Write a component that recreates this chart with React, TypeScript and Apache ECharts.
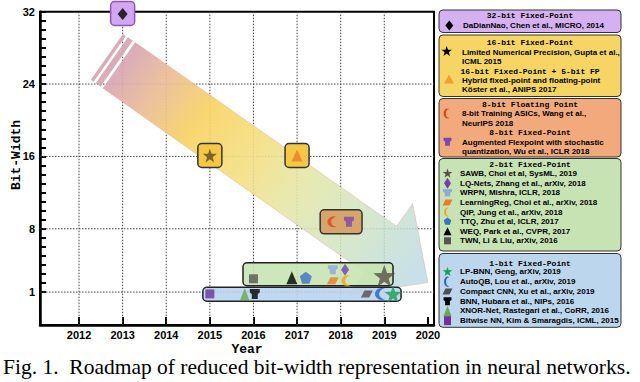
import React, { useEffect, useRef } from 'react';
import * as echarts from 'echarts';

// ---------- data ----------
const yearLabels = [2012, 2013, 2014, 2015, 2016, 2017, 2018, 2019, 2020];
const yearGridLines = [2012, 2013, 2014, 2015, 2016, 2017, 2018, 2019];
const bitLabels = [1, 8, 16, 24, 32];
const bitGridLines = [1, 8, 16, 24];
const bitTicks = [1, 2, 3, 4, 5, 6, 7, 8, 9, 10, 11, 12, 13, 14, 15, 16, 17, 18, 19, 20, 21, 22, 23, 24, 25, 26, 27, 28, 29, 30, 31, 32];

const workNames = ['DaDianNao', 'Gupta', 'Koster', 'Wang', 'Wu', 'TWN', 'WEQ', 'TTQ', 'WRPN', 'LearningReg', 'LQ-Nets', 'QIP', 'SAWB', 'Bitwise NN', 'XNOR-Net', 'BNN', 'Compact CNN', 'AutoQB', 'LP-BNN'];
const workYears = [2013.0, 2015.0, 2017.0, 2017.8, 2018.19, 2016.0, 2016.88, 2017.2, 2017.82, 2017.82, 2018.1, 2018.12, 2019.0, 2015.0, 2015.8, 2016.03, 2018.6, 2018.9, 2019.2];
const workBits = [31.75, 16.1, 16.1, 8.77, 8.77, 2.47, 2.58, 2.58, 3.46, 2.25, 3.46, 2.25, 2.8, 0.8, 0.8, 0.8, 0.8, 0.8, 0.8];

const boxStartYears = [2013, 2015, 2017, 2017.53, 2015.76, 2014.84];
const boxEndYears = [2013, 2015, 2017, 2018.49, 2019.2, 2019.385];
const boxBits = [31.8, 16.1, 16.1, 8.77, 2.97, 0.76];

const arrowTail = [2012.92, 26.06];
const arrowTip = [2020.0, 2.05];

const legendTitles = ['32-bit Fixed-Point', '16-bit Fixed-Point', '16-bit Fixed-Point + 5-bit FP', '8-bit Floating Point', '8-bit Fixed-Point', '2-bit Fixed-Point', '1-bit Fixed-Point'];
const legendTexts32 = ['DaDianNao, Chen et al., MICRO, 2014'];
const legendTexts16 = ['Limited Numerical Precision, Gupta et al.,', 'ICML 2015', 'Hybrid fixed-point and floating-point', 'Köster et al., ANIPS 2017'];
const legendTexts8 = ['8-bit Training ASICs, Wang et al.,', 'NeurIPS 2018', 'Augmented Flexpoint with stochastic', 'quantization, Wu et al., ICLR 2018'];
const legendTexts2 = ['SAWB, Choi et al, SysML, 2019', 'LQ-Nets, Zhang et al., arXiv, 2018', 'WRPN, Mishra, ICLR, 2018', 'LearningReg, Choi et al., arXiv, 2018', 'QIP, Jung et al., arXiv, 2018', 'TTQ, Zhu et al, ICLR, 2017', 'WEQ, Park et al., CVPR, 2017', 'TWN, Li & Liu, arXiv, 2016'];
const legendWorks2 = ['SAWB', 'LQ-Nets', 'WRPN', 'LearningReg', 'QIP', 'TTQ', 'WEQ', 'TWN'];
const legendTexts1 = ['LP-BNN, Geng, arXiv, 2019', 'AutoQB, Lou et al., arXiv, 2019', 'Compact CNN, Xu et al., arXiv, 2019', 'BNN, Hubara et al., NIPs, 2016', 'XNOR-Net, Rastegari et al., CoRR, 2016', 'Bitwise NN, Kim & Smaragdis, ICML, 2015'];
const legendWorks1 = ['LP-BNN', 'AutoQB', 'Compact CNN', 'BNN', 'XNOR-Net', 'Bitwise NN'];
const caption = 'Fig. 1.  Roadmap of reduced bit-width representation in neural networks.';

// ---------- shapes ----------
const PATHS: Record<string, string> = {
  star: 'M0 -50 L11.76 -16.18 L47.55 -15.45 L19.02 6.18 L29.39 40.45 L0 20 L-29.39 40.45 L-19.02 6.18 L-47.55 -15.45 L-11.76 -16.18 Z',
  crescent: 'M22 -44.9 A50 50 0 1 0 22 44.9 A45 45 0 0 1 22 -44.9 Z',
  cup: 'M-50 -50 L50 -50 L50 -15 L30 0 L30 50 L-30 50 L-30 0 L-50 -15 Z',
  para: 'M-20 -50 L50 -50 L20 50 L-50 50 Z',
  pentagon: 'M0 -50 L47.55 -15.45 L29.39 40.45 L-29.39 40.45 L-47.55 -15.45 Z',
  diamond: 'M0 -50 L50 0 L0 50 L-50 0 Z',
  triangle: 'M0 -50 L50 50 L-50 50 Z',
  square: 'M-50 -50 L50 -50 L50 50 L-50 50 Z',
};
Object.keys(PATHS).forEach((k) => {
  echarts.graphic.registerShape('sym_' + k, echarts.graphic.extendPath(PATHS[k], {}));
});

// style per work
const WORK_STYLE: Record<string, { sym: string; size: number[]; color: string; legendColor?: string; legendSize: number[] }> = {
  'DaDianNao': { sym: 'diamond', size: [10, 12], color: '#000', legendSize: [8, 10] },
  'Gupta': { sym: 'star', size: [14, 14], color: '#5b4b25', legendColor: '#000', legendSize: [11, 11] },
  'Koster': { sym: 'triangle', size: [11, 12], color: '#e9802a', legendColor: '#f0a030', legendSize: [10, 9] },
  'Wang': { sym: 'crescent', size: [9, 11], color: '#e0461e', legendSize: [8, 10] },
  'Wu': { sym: 'cup', size: [10, 10], color: '#7a48b0', legendSize: [8, 8] },
  'TWN': { sym: 'square', size: [9, 9], color: '#555555', legendSize: [7, 7] },
  'WEQ': { sym: 'triangle', size: [11, 13], color: '#000', legendSize: [8, 8] },
  'TTQ': { sym: 'pentagon', size: [12, 12], color: '#3a72c4', legendSize: [8, 8] },
  'WRPN': { sym: 'cup', size: [10, 9], color: '#8fa8dc', legendSize: [9, 7] },
  'LearningReg': { sym: 'para', size: [12, 7], color: '#ee7a30', legendSize: [10, 6] },
  'LQ-Nets': { sym: 'diamond', size: [8, 12], color: '#7040b0', legendSize: [7, 11] },
  'QIP': { sym: 'crescent', size: [9, 11], color: '#f2a51a', legendSize: [7, 9] },
  'SAWB': { sym: 'star', size: [22, 22], color: '#5a5045', legendSize: [10, 10] },
  'Bitwise NN': { sym: 'square', size: [9, 9], color: '#7030a0', legendSize: [7, 9] },
  'XNOR-Net': { sym: 'triangle', size: [9, 12], color: '#6aaa48', legendSize: [8, 10] },
  'BNN': { sym: 'cup', size: [10, 10], color: '#000', legendSize: [8, 8] },
  'Compact CNN': { sym: 'para', size: [12, 7], color: '#505050', legendSize: [10, 6] },
  'AutoQB': { sym: 'crescent', size: [10, 12], color: '#1e64c8', legendSize: [7, 10] },
  'LP-BNN': { sym: 'star', size: [17, 17], color: '#16a050', legendSize: [10, 10] },
};

const BOX_STYLE = [
  { h: 24, fill: '#d3a6f2', stroke: '#8e54c0' },
  { h: 24, fill: '#f3c846', stroke: '#333' },
  { h: 24, fill: '#f3c846', stroke: '#333' },
  { h: 24, fill: '#d6a56b', stroke: '#333' },
  { h: 23, fill: 'rgba(200,228,180,0.9)', stroke: '#222' },
  { h: 14, fill: 'rgba(185,212,238,0.9)', stroke: '#222' },
];

const X_MIN = 2011.105;
const X_MAX = 2020.14;
const Y_MIN = -2.64;
const Y_MAX = 32;

function buildLegend(): any[] {
  const els: any[] = [];
  const L = 439, R = 621, CX = 530;
  const HFONT = 'bold 8px "Liberation Mono"';
  const EFONT = 'bold 8px "Liberation Sans"';
  const box = (y0: number, y1: number, fill: string) => els.push({
    type: 'rect', shape: { x: L, y: y0, width: R - L, height: y1 - y0, r: 4 },
    style: { fill, stroke: '#333', lineWidth: 1 },
  });
  const head = (text: string, y: number) => els.push({
    type: 'text', x: CX, y, style: { text, font: HFONT, fill: '#000', textAlign: 'center', textVerticalAlign: 'middle', align: 'center', verticalAlign: 'middle' },
  });
  const line = (text: string, x: number, y: number) => els.push({
    type: 'text', x, y, style: { text, font: EFONT, fill: '#000', textAlign: 'left', textVerticalAlign: 'middle', align: 'left', verticalAlign: 'middle' },
  });
  const icon = (work: string, x: number, y: number) => {
    const s = WORK_STYLE[work];
    els.push({ type: 'sym_' + s.sym, x, y, scaleX: s.legendSize[0] / 100, scaleY: s.legendSize[1] / 100, style: { fill: s.legendColor || s.color } });
  };

  box(10, 32.5, '#d5b1f2');
  head(legendTitles[0], 15.5);
  icon('DaDianNao', 449.3, 25.5);
  line(legendTexts32[0], 463, 25.5);

  box(35, 96.5, '#f6d564');
  head(legendTitles[1], 42);
  icon('Gupta', 446.7, 51.5);
  line(legendTexts16[0], 462, 52);
  line(legendTexts16[1], 462, 61.3);
  head(legendTitles[2], 71);
  icon('Koster', 449, 79);
  line(legendTexts16[2], 462, 80.3);
  line(legendTexts16[3], 462, 89.5);

  box(98.5, 157, '#f2aa7c');
  head(legendTitles[3], 104.3);
  icon('Wang', 447.5, 113.5);
  line(legendTexts8[0], 462, 113.6);
  line(legendTexts8[1], 462, 123);
  head(legendTitles[4], 132.5);
  icon('Wu', 447.5, 141.7);
  line(legendTexts8[2], 462, 142.4);
  line(legendTexts8[3], 462, 151.8);

  box(158.5, 251, '#c7e3b3');
  head(legendTitles[5], 164.5);
  legendTexts2.forEach((t, i) => {
    const y = 173.6 + i * 9.6;
    icon(legendWorks2[i], 447.5, y);
    line(t, 460, y);
  });

  box(253.5, 327.3, '#bcd6ee');
  head(legendTitles[6], 263.4);
  legendTexts1.forEach((t, i) => {
    const y = 271.9 + i * 9.75;
    icon(legendWorks1[i], 447.5, y);
    line(t, 460, y);
  });
  return els;
}

function buildOption(): any {
  const scatterData = workNames.map((n, i) => {
    const s = WORK_STYLE[n];
    return {
      name: n,
      value: [workYears[i], workBits[i]],
      symbol: 'path://' + PATHS[s.sym],
      symbolSize: s.size,
      itemStyle: { color: s.color },
    };
  });

  const arrowStops = [
    { offset: 0, color: 'rgba(214,166,182,0.93)' },
    { offset: 0.12, color: 'rgba(234,188,150,0.92)' },
    { offset: 0.26, color: 'rgba(247,211,100,0.92)' },
    { offset: 0.42, color: 'rgba(244,222,128,0.9)' },
    { offset: 0.58, color: 'rgba(228,230,165,0.87)' },
    { offset: 0.75, color: 'rgba(208,228,192,0.85)' },
    { offset: 1, color: 'rgba(184,216,234,0.82)' },
  ];

  const labelFmt = (v: number) => String(Math.round(v));

  return {
    animation: false,
    backgroundColor: '#fff',
    grid: {
      left: 40, top: 11.7, width: 394, height: 313.3,
      show: true, borderColor: '#000', borderWidth: 2, backgroundColor: 'transparent',
      outerBoundsMode: 'none',
    },
    xAxis: {
      type: 'value', min: X_MIN, max: X_MAX,
      axisLine: { show: true, onZero: false, lineStyle: { color: '#000', width: 2.5 } },
      axisTick: { show: true, inside: true, length: 8, customValues: yearLabels, lineStyle: { color: '#000', width: 2 } },
      axisLabel: { customValues: yearLabels, formatter: labelFmt, color: '#000', fontSize: 11, fontWeight: 'bold', fontFamily: 'Liberation Sans', margin: 4 },
      splitLine: { show: false },
    },
    yAxis: {
      type: 'value', min: Y_MIN, max: Y_MAX,
      axisLine: { show: true, onZero: false, lineStyle: { color: '#000', width: 2.5 } },
      axisTick: { show: true, inside: true, length: 6, customValues: bitTicks, lineStyle: { color: '#000', width: 2 } },
      axisLabel: { customValues: bitLabels, formatter: labelFmt, color: '#000', fontSize: 11, fontWeight: 'bold', fontFamily: 'Liberation Sans', margin: 5 },
      splitLine: { show: false },
    },
    series: [
      {
        type: 'custom', name: 'vgrid', z: 1, silent: true, clip: false,
        data: yearGridLines.map((y) => [y, 10]),
        renderItem: (params: any, api: any) => {
          const p = api.coord([api.value(0), api.value(1)]);
          const cs = params.coordSys;
          return { type: 'line', shape: { x1: p[0], y1: cs.y, x2: p[0], y2: cs.y + cs.height }, style: { stroke: '#444', lineWidth: 1, lineDash: [1.5, 1.5] } };
        },
      },
      {
        type: 'custom', name: 'hgrid', z: 1, silent: true, clip: false,
        data: bitGridLines.map((b) => [2016, b]),
        renderItem: (params: any, api: any) => {
          const p = api.coord([api.value(0), api.value(1)]);
          const cs = params.coordSys;
          return { type: 'line', shape: { x1: cs.x, y1: p[1], x2: cs.x + cs.width, y2: p[1] }, style: { stroke: '#444', lineWidth: 1, lineDash: [1.5, 1.5] } };
        },
      },
      {
        type: 'custom', name: 'arrow', z: 2, silent: true, clip: false,
        encode: { x: [0, 2], y: [1, 3] },
        data: [[arrowTail[0], arrowTail[1], arrowTip[0], arrowTip[1]]],
        renderItem: (params: any, api: any) => {
          const t = api.coord([api.value(0), api.value(1)]);
          const h = api.coord([api.value(2), api.value(3)]);
          const dx = h[0] - t[0], dy = h[1] - t[1];
          const Lh = Math.hypot(dx, dy);
          const ux = dx / Lh, uy = dy / Lh, nx = -uy, ny = ux;
          const P = (a: number, b: number) => [t[0] + ux * a + nx * b, t[1] + uy * a + ny * b];
          const hw = 28, headHalf = 56, headLen = 58;
          const base = Lh - headLen;
          const grad = new echarts.graphic.LinearGradient(t[0], t[1], h[0], h[1], arrowStops, true);
          const stripe = (a0: number, a1: number) => ({
            type: 'polygon', shape: { points: [P(a0, -hw), P(a1, -hw), P(a1, hw), P(a0, hw)] },
            style: { fill: 'rgba(212,166,180,0.92)' },
          });
          return {
            type: 'group',
            children: [
              stripe(-15, -11.5),
              stripe(-9, -3),
              {
                type: 'polygon',
                shape: { points: [P(0, -hw), P(base, -hw), P(base, -headHalf), P(Lh, 0), P(base, headHalf), P(base, hw), P(0, hw)] },
                style: { fill: grad, stroke: 'rgba(228,150,140,0.45)', lineWidth: 0.8 },
              },
            ],
          };
        },
      },
      {
        type: 'custom', name: 'boxes', z: 3, silent: true, clip: false,
        encode: { x: [0, 1], y: 2 },
        data: boxStartYears.map((s, i) => [s, boxEndYears[i], boxBits[i]]),
        renderItem: (params: any, api: any) => {
          const st = BOX_STYLE[params.dataIndex];
          const a = api.coord([api.value(0), api.value(2)]);
          const b = api.coord([api.value(1), api.value(2)]);
          let x0 = a[0], x1 = b[0];
          if (x1 - x0 < 24) { const c = (x0 + x1) / 2; x0 = c - 12; x1 = c + 12; }
          return {
            type: 'rect',
            shape: { x: x0, y: a[1] - st.h / 2, width: x1 - x0, height: st.h, r: 4 },
            style: { fill: st.fill, stroke: st.stroke, lineWidth: 1.5 },
          };
        },
      },
      {
        type: 'scatter', name: 'works', z: 4, clip: false,
        data: scatterData,
      },
    ],
    graphic: [
      {
        type: 'text', x: 16, y: 155, rotation: Math.PI / 2,
        style: { text: 'Bit-Width', font: 'bold 13px "Liberation Mono"', fill: '#000', textAlign: 'center', textVerticalAlign: 'middle', align: 'center', verticalAlign: 'middle' },
      },
      {
        type: 'text', x: 247, y: 349,
        style: { text: 'Year', font: 'bold 13px "Liberation Mono"', fill: '#000', textAlign: 'center', textVerticalAlign: 'middle', align: 'center', verticalAlign: 'middle' },
      },
      {
        type: 'text', x: 3, y: 367,
        style: { text: caption, font: '21.5px "Liberation Serif"', fill: '#000', textAlign: 'left', textVerticalAlign: 'middle', align: 'left', verticalAlign: 'middle' },
      },
      ...buildLegend(),
    ],
  };
}

export default function App() {
  const ref = useRef<HTMLDivElement>(null);
  useEffect(() => {
    if (!ref.current) return;
    const chart = echarts.init(ref.current, null, { renderer: 'svg' });
    chart.setOption(buildOption());
    return () => chart.dispose();
  }, []);
  return <div ref={ref} style={{ position: 'absolute', left: 0, top: 0, width: 640, height: 382, background: '#fff' }} />;
}
